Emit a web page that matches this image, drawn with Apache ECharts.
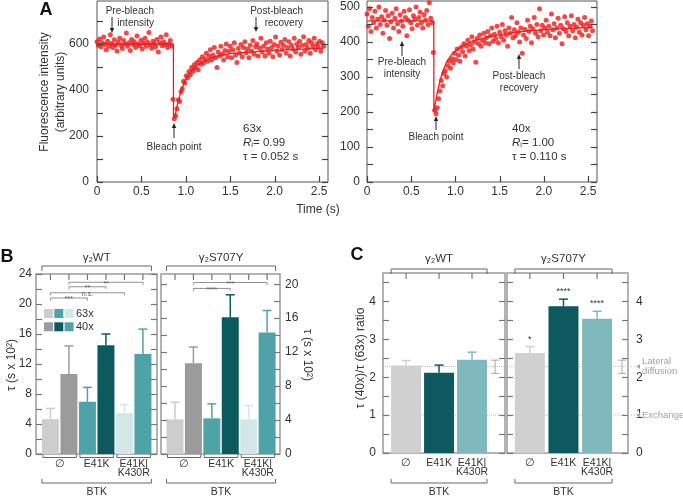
<!DOCTYPE html>
<html>
<head>
<meta charset="utf-8">
<title>FRAP recovery and tau ratios</title>
<script src="https://cdn.jsdelivr.net/npm/echarts@6/dist/echarts.min.js"></script>
<style>
    html, body { margin: 0; padding: 0; background: #fff; }
    #chart { width: 683px; height: 499px; }
</style>
</head>
<body>
<div id="chart"></div>
<script>
    // ---------- panel A: FRAP traces (one frame every sampleStep seconds) ----------
    var sampleStep = 0.015;
    var trace63x = [
        610, 595, 622, 588, 605, 630, 598, 575, 612, 590,
        640, 602, 585, 618, 596, 570, 608, 625, 593, 580,
        615, 600, 648, 590, 605, 572, 620, 598, 610, 585,
        635, 600, 592, 616, 578, 604, 625, 590, 608, 650,
        596, 582, 612, 600, 588, 620, 565, 605, 630, 592,
        610, 598, 640, 585, 600, 615, 590,
        360, 275, 288, 318, 358, 350, 392, 405, 438, 430,
        462, 452, 480, 465, 498, 482, 510, 495, 520, 488,
        530, 512, 545, 518, 535, 560, 525, 548, 575, 530,
        552, 585, 540, 498, 565, 548, 590, 555, 530, 572,
        600, 545, 568, 590, 540, 575, 605, 552, 520, 580,
        560, 598, 545, 585, 610, 562, 578, 540, 595, 570,
        615, 555, 588, 600, 548, 582, 625, 565, 590, 548,
        605, 578, 560, 612, 585, 545, 598, 630, 568, 590,
        552, 608, 575, 595, 620, 560, 585, 610, 548, 595,
        578, 625, 565, 600, 585, 612, 555, 595, 632, 570,
        598, 582, 615, 560, 605, 590, 625, 575, 600, 588,
        612, 568, 605, 590
    ];
    var trace40x = [
        480, 445, 495, 430, 470, 455, 488, 440, 465, 500,
        450, 472, 425, 462, 490, 448, 475, 410, 458, 482,
        440, 468, 495, 452, 430, 478, 460, 445, 488, 470,
        418, 462, 492, 455, 438, 475, 465, 500, 448, 470,
        485, 455, 440, 478, 462, 490, 450, 512, 468, 455,
        370, 205, 195, 212, 238, 260, 290, 275, 310, 318,
        300, 332, 345, 325, 352, 340, 368, 350, 380, 362,
        345, 385, 372, 395, 360, 388, 405, 375, 392, 415,
        380, 400, 342, 410, 395, 420, 388, 405, 425, 398,
        412, 430, 395, 418, 440, 402, 422, 410, 445, 398,
        428, 415, 450, 405, 432, 420, 388, 440, 425, 470,
        412, 435, 418, 455, 428, 400, 440, 368, 420, 436,
        410, 462, 430, 445, 398, 438, 470, 425, 450, 415,
        495, 432, 448, 420, 440, 462, 428, 445, 418, 480,
        435, 452, 412, 440, 468, 425, 448, 395, 438, 472,
        430, 455, 418, 445, 475, 432, 450, 412, 442, 465,
        428, 455, 420, 448, 470, 435, 452, 418, 445, 460, 432
    ];
    // fitted recovery curves [time, intensity]
    var fit63x = [[0, 600], [0.86, 600], [0.861, 280], [0.88, 290], [0.9, 330], [0.95, 400], [1.0, 450],
        [1.05, 478], [1.1, 498], [1.2, 525], [1.3, 542], [1.4, 552], [1.5, 558], [1.75, 566],
        [2.0, 572], [2.25, 577], [2.55, 582]];
    var fit40x = [[0, 460], [0.755, 460], [0.756, 200], [0.78, 235], [0.8, 262], [0.85, 312], [0.9, 343],
        [0.95, 362], [1.0, 375], [1.1, 392], [1.2, 403], [1.4, 416], [1.6, 425], [1.8, 431],
        [2.0, 435], [2.3, 439], [2.55, 442]];

    // ---------- panel B: tau (s x 10^2) ----------
    var btkGroups = ['\u2205', 'E41K', 'E41K|\nK430R'];
    var tauWT63 = [4.64, 6.96, 5.45];
    var tauWT63Err = [6.07, 8.88, 6.56];
    var tauWT40 = [10.67, 14.5, 13.35];
    var tauWT40Err = [14.4, 16.0, 16.65];
    var tauS707Y63 = [4.08, 4.2, 4.08];
    var tauS707Y63Err = [6.1, 5.9, 5.7];
    var tauS707Y40 = [10.7, 16.1, 14.3];
    var tauS707Y40Err = [12.6, 18.75, 16.9];
    // [from bar, to bar, height, label]
    var sigWT = [[1, 5, 22.9, '**'], [1, 3, 22.3, '**'], [0, 4, 21.5, 'n.s.'], [0, 2, 20.8, '***']];
    var sigS707Y = [[1, 5, 20.2, '***'], [1, 3, 19.5, '****']];

    // ---------- panel C: tau(40x)/tau(63x) ratio ----------
    var ratioWT = [2.31, 2.12, 2.46];
    var ratioWTErr = [2.44, 2.32, 2.66];
    var ratioS707Y = [2.64, 3.87, 3.54];
    var ratioS707YErr = [2.81, 4.06, 3.74];
    var starsS707Y = ['*', '****', '****'];
    var lateralDiffusion = [2.28, 2.1, 2.45]; // mean, low, high
    var exchangeLevel = 1.0;

    // ---------- styles ----------
    var FONT = "'Liberation Sans', Arial, Helvetica, sans-serif";
    var INK = '#333';
    var RED = '#ee1c1c';
    var shade63 = ['#cdcdcd', '#4ea3a8', '#d3e6e8'];
    var shade40 = ['#9b9b9b', '#0c5a60', '#4ea3a8'];
    var shadeC = ['#d0d0d0', '#0c5a60', '#80b9bd'];

    function isStep(v, step) {
        var r = v / step;
        return Math.abs(r - Math.round(r)) < 1e-6;
    }

    function yAx(gridIndex, position, max, interval, labelStep, labels, margin) {
        return {
            type: 'value', gridIndex: gridIndex, position: position,
            min: 0, max: max, interval: interval,
            axisLine: { show: false, onZero: false },
            splitLine: { show: false },
            axisTick: { show: false },
            axisLabel: {
                show: labels, margin: margin, color: INK, fontSize: 12, fontFamily: FONT,
                formatter: function (v) { return isStep(v, labelStep) ? String(Math.round(v)) : ''; }
            }
        };
    }

    function xHidden(gridIndex, min, max) {
        return { type: 'value', gridIndex: gridIndex, min: min, max: max, show: false, axisLine: { onZero: false } };
    }

    function xTime(gridIndex) {
        return {
            type: 'value', gridIndex: gridIndex, min: 0, max: 2.6, interval: 0.5,
            axisLine: { show: false, onZero: false },
            splitLine: { show: false },
            axisTick: { show: false },
            axisLabel: {
                margin: 4, color: INK, fontSize: 12, fontFamily: FONT,
                formatter: function (v) { return isStep(v, 0.5) ? (v === 0 ? '0' : v.toFixed(1)) : ''; }
            }
        };
    }

    function tracePoints(values) {
        return values.map(function (v, i) { return [+(i * sampleStep).toFixed(4), v]; });
    }

    function pairedBars(v63, v40) {
        var out = [];
        for (var c = 0; c < v63.length; c++) {
            out.push({ value: [2 * c, v63[c]], itemStyle: { color: shade63[c] } });
            out.push({ value: [2 * c + 1, v40[c]], itemStyle: { color: shade40[c] } });
        }
        return out;
    }

    function pairedErr(v63, e63, v40, e40) {
        var out = [];
        for (var c = 0; c < v63.length; c++) {
            out.push([2 * c, v63[c], e63[c]]);
            out.push([2 * c + 1, v40[c], e40[c]]);
        }
        return out;
    }

    var pairedColors = [];
    for (var k = 0; k < 3; k++) { pairedColors.push(shade63[k], shade40[k]); }

    function errRenderer(colors, stars) {
        return function (params, api) {
            var x = api.value(0);
            var base = api.coord([x, api.value(1)]);
            var tip = api.coord([x, api.value(2)]);
            var c = colors[params.dataIndex];
            var kids = [
                { type: 'line', shape: { x1: base[0], y1: base[1], x2: tip[0], y2: tip[1] }, style: { stroke: c, lineWidth: 1.5 } },
                { type: 'line', shape: { x1: tip[0] - 4.5, y1: tip[1], x2: tip[0] + 4.5, y2: tip[1] }, style: { stroke: c, lineWidth: 1.5 } }
            ];
            if (stars && stars[params.dataIndex]) {
                kids.push({
                    type: 'text', x: tip[0], y: tip[1] - 3,
                    style: { text: stars[params.dataIndex], align: 'center', verticalAlign: 'bottom', fontSize: 9, fontFamily: FONT, fill: INK }
                });
            }
            return { type: 'group', children: kids };
        };
    }

    function sigRenderer(list) {
        return function (params, api) {
            var a = api.coord([api.value(0), api.value(2)]);
            var b = api.coord([api.value(1), api.value(2)]);
            return {
                type: 'group', children: [
                    { type: 'polyline', shape: { points: [[a[0], a[1] + 2.5], [a[0], a[1]], [b[0], b[1]], [b[0], b[1] + 2.5]] }, style: { stroke: '#777', lineWidth: 0.8, fill: null } },
                    { type: 'text', x: (a[0] + b[0]) / 2, y: a[1] + 1.5, style: { text: list[params.dataIndex][3], align: 'center', verticalAlign: 'middle', fontSize: 7, fontFamily: FONT, fill: '#555' } }
                ]
            };
        };
    }

    function sdRenderer(params, api) {
        var lo = api.coord([api.value(0), api.value(1)]);
        var hi = api.coord([api.value(0), api.value(2)]);
        var st = { stroke: '#a8a8a8', lineWidth: 1 };
        return {
            type: 'group', children: [
                { type: 'line', shape: { x1: lo[0], y1: lo[1], x2: hi[0], y2: hi[1] }, style: st },
                { type: 'line', shape: { x1: lo[0] - 4, y1: lo[1], x2: lo[0] + 4, y2: lo[1] }, style: st },
                { type: 'line', shape: { x1: hi[0] - 4, y1: hi[1], x2: hi[0] + 4, y2: hi[1] }, style: st }
            ]
        };
    }

    function refLine(xi, yi, xmin, xmax, level) {
        return {
            type: 'line', xAxisIndex: xi, yAxisIndex: yi, z: 1, symbol: 'none', silent: true,
            data: [[xmin, level], [xmax, level]],
            lineStyle: { color: '#bdbdbd', width: 1, type: 'dotted' }
        };
    }

    function singleBars(values) {
        return values.map(function (v, i) { return { value: [i, v], itemStyle: { color: shadeC[i] } }; });
    }

    function singleErr(values, errs) {
        return values.map(function (v, i) { return [i, v, errs[i]]; });
    }

    var frameA = { show: true, borderColor: '#555', borderWidth: 1, backgroundColor: 'transparent' };
    var frameB = { show: true, borderColor: '#9a9a9a', borderWidth: 1.5, backgroundColor: 'transparent' };

    var chart = echarts.init(document.getElementById('chart'), null, { renderer: 'canvas' });

    var option = {
        animation: false,
        backgroundColor: '#fff',
        grid: [
            Object.assign({ left: 97, top: 1, width: 231, height: 181 }, frameA),
            Object.assign({ left: 367, top: 1, width: 230, height: 181 }, frameA),
            Object.assign({ left: 36, top: 274, width: 121, height: 180 }, frameB),
            Object.assign({ left: 161, top: 274, width: 119, height: 180 }, frameB),
            Object.assign({ left: 383, top: 273, width: 122, height: 180 }, frameB),
            Object.assign({ left: 507, top: 273, width: 121, height: 180 }, frameB)
        ],
        xAxis: [
            xTime(0),
            xTime(1),
            xHidden(2, -0.78, 5.76),
            xHidden(3, -0.76, 5.7),
            xHidden(4, -0.7, 3.0),
            xHidden(5, -0.68, 2.92)
        ],
        yAxis: [
            yAx(0, 'left', 787, 100, 200, true, 8),
            yAx(1, 'left', 517, 50, 100, true, 7),
            yAx(2, 'left', 24, 2, 4, true, 4),
            yAx(3, 'right', 21.2, 2, 4, true, 5),
            yAx(4, 'left', 4.75, 0.5, 1, true, 7),
            yAx(5, 'right', 4.75, 0.5, 1, true, 8)
        ],
        series: [
            { type: 'scatter', xAxisIndex: 0, yAxisIndex: 0, symbolSize: 5, itemStyle: { color: RED }, data: tracePoints(trace63x) },
            { type: 'line', xAxisIndex: 0, yAxisIndex: 0, showSymbol: false, symbol: 'none', lineStyle: { color: RED, width: 1.3 }, data: fit63x },
            { type: 'scatter', xAxisIndex: 1, yAxisIndex: 1, symbolSize: 5, itemStyle: { color: RED }, data: tracePoints(trace40x) },
            { type: 'line', xAxisIndex: 1, yAxisIndex: 1, showSymbol: false, symbol: 'none', lineStyle: { color: RED, width: 1.3 }, data: fit40x },

            { type: 'bar', xAxisIndex: 2, yAxisIndex: 2, barWidth: 17, z: 3, data: pairedBars(tauWT63, tauWT40) },
            { type: 'custom', xAxisIndex: 2, yAxisIndex: 2, z: 4, encode: { x: 0, y: [1, 2] }, renderItem: errRenderer(pairedColors), data: pairedErr(tauWT63, tauWT63Err, tauWT40, tauWT40Err) },
            { type: 'custom', xAxisIndex: 2, yAxisIndex: 2, z: 4, encode: { x: [0, 1], y: 2 }, renderItem: sigRenderer(sigWT), data: sigWT.map(function (s) { return s.slice(0, 3); }) },

            { type: 'bar', xAxisIndex: 3, yAxisIndex: 3, barWidth: 17, z: 3, data: pairedBars(tauS707Y63, tauS707Y40) },
            { type: 'custom', xAxisIndex: 3, yAxisIndex: 3, z: 4, encode: { x: 0, y: [1, 2] }, renderItem: errRenderer(pairedColors), data: pairedErr(tauS707Y63, tauS707Y63Err, tauS707Y40, tauS707Y40Err) },
            { type: 'custom', xAxisIndex: 3, yAxisIndex: 3, z: 4, encode: { x: [0, 1], y: 2 }, renderItem: sigRenderer(sigS707Y), data: sigS707Y.map(function (s) { return s.slice(0, 3); }) },

            refLine(4, 4, -0.7, 3.0, lateralDiffusion[0]),
            refLine(4, 4, -0.7, 3.0, exchangeLevel),
            { type: 'bar', xAxisIndex: 4, yAxisIndex: 4, barWidth: 30, z: 3, data: singleBars(ratioWT) },
            { type: 'custom', xAxisIndex: 4, yAxisIndex: 4, z: 4, encode: { x: 0, y: [1, 2] }, renderItem: errRenderer(shadeC), data: singleErr(ratioWT, ratioWTErr) },
            { type: 'custom', xAxisIndex: 4, yAxisIndex: 4, z: 4, encode: { x: 0, y: [1, 2] }, renderItem: sdRenderer, data: [[2.7, lateralDiffusion[1], lateralDiffusion[2]]] },

            refLine(5, 5, -0.68, 2.92, lateralDiffusion[0]),
            refLine(5, 5, -0.68, 2.92, exchangeLevel),
            { type: 'bar', xAxisIndex: 5, yAxisIndex: 5, barWidth: 30, z: 3, data: singleBars(ratioS707Y) },
            { type: 'custom', xAxisIndex: 5, yAxisIndex: 5, z: 4, encode: { x: 0, y: [1, 2] }, renderItem: errRenderer(shadeC, starsS707Y), data: singleErr(ratioS707Y, ratioS707YErr) },
            { type: 'custom', xAxisIndex: 5, yAxisIndex: 5, z: 4, encode: { x: 0, y: [1, 2] }, renderItem: sdRenderer, data: [[2.74, lateralDiffusion[1], lateralDiffusion[2]]] }
        ]
    };

    chart.setOption(option);

    // ---------- annotations, brackets, ticks, labels ----------
    function px(i, x, y) {
        return chart.convertToPixel({ xAxisIndex: i, yAxisIndex: i }, [x, y]);
    }

    function T(x, y, text, size, extra) {
        var st = { text: text, fontSize: size, fontFamily: FONT, fill: INK, align: 'center', verticalAlign: 'middle' };
        for (var key in (extra || {})) { st[key] = extra[key]; }
        return { type: 'text', x: x, y: y, z: 100, style: st };
    }

    function L(points, color, width) {
        return { type: 'polyline', z: 100, shape: { points: points }, style: { stroke: color || '#555', lineWidth: width || 1, fill: null } };
    }

    function arrow(x, yFrom, yTo) {
        var d = yTo > yFrom ? 1 : -1;
        return [
            L([[x, yFrom], [x, yTo - d * 3]], '#222', 1),
            { type: 'polygon', z: 100, shape: { points: [[x - 2.2, yTo - d * 5], [x + 2.2, yTo - d * 5], [x, yTo]] }, style: { fill: '#222' } }
        ];
    }

    var g = [];

    // inward ticks on both sides of each frame
    function sideTicks(i, xmin, xmax, top, step, color) {
        var xl = px(i, xmin, 0)[0], xr = px(i, xmax, 0)[0];
        for (var n = 0; n * step <= top + 1e-9; n++) {
            var y = Math.round(px(i, xmin, n * step)[1]) + 0.5;
            g.push(L([[xl, y], [xl + 6, y]], color, 1.2));
            g.push(L([[xr - 6, y], [xr, y]], color, 1.2));
        }
    }
    function bottomTicks(i, maxT, step, color) {
        for (var n = 0; n * step <= maxT + 1e-9; n++) {
            var p = px(i, n * step, 0);
            var x = Math.round(p[0]) + 0.5;
            g.push(L([[x, p[1]], [x, p[1] - 6]], color, 1.2));
        }
    }
    sideTicks(0, 0, 2.6, 700, 100, '#444');
    sideTicks(1, 0, 2.6, 500, 50, '#444');
    bottomTicks(0, 2.5, 0.5, '#444');
    bottomTicks(1, 2.5, 0.5, '#444');
    sideTicks(2, -0.78, 5.76, 24, 2, '#777');
    sideTicks(3, -0.76, 5.7, 20, 2, '#777');
    sideTicks(4, -0.7, 3.0, 4.5, 0.5, '#777');
    sideTicks(5, -0.68, 2.92, 4.5, 0.5, '#777');

    // panel letters
    g.push(T(46, 10, 'A', 18, { fontWeight: 'bold', fill: '#111' }));
    g.push(T(7, 257, 'B', 18, { fontWeight: 'bold', fill: '#111' }));
    g.push(T(357, 255, 'C', 18, { fontWeight: 'bold', fill: '#111' }));

    // panel A titles
    var yTitle = T(53, 92, 'Fluorescence intensity\n(arbitrary units)', 12, { lineHeight: 16 });
    yTitle.rotation = Math.PI / 2;
    g.push(yTitle);
    g.push(T(318, 210, 'Time (s)', 12));

    // panel A annotations, 63x
    g.push(T(154, 11, 'Pre-bleach', 10, { align: 'right' }));
    g.push(T(154, 23, 'intensity', 10, { align: 'right' }));
    g = g.concat(arrow(112, 17, 33));
    g.push(T(303, 11, 'Post-bleach', 10, { align: 'right' }));
    g.push(T(303, 23, 'recovery', 10, { align: 'right' }));
    g = g.concat(arrow(256, 17, 32));
    g = g.concat(arrow(174, 138, 123));
    g.push(T(174, 147, 'Bleach point', 10));

    function stats(x, mag, r, tau) {
        g.push(T(x, 129, mag, 11.5, { align: 'left' }));
        g.push({
            type: 'text', x: x, y: 143, z: 100,
            style: {
                text: '{it|R}{sub|i}{n|= ' + r + '}', align: 'left', verticalAlign: 'middle',
                rich: {
                    it: { fontStyle: 'italic', fontSize: 11.5, fontFamily: FONT, fill: INK },
                    sub: { fontSize: 7.5, fontFamily: FONT, fill: INK, verticalAlign: 'bottom', lineHeight: 6 },
                    n: { fontSize: 11.5, fontFamily: FONT, fill: INK }
                }
            }
        });
        g.push(T(x, 157, '\u03c4 = ' + tau + ' s', 11.5, { align: 'left' }));
    }
    stats(243, '63x', '0.99', '0.052');

    // panel A annotations, 40x
    g = g.concat(arrow(402, 56, 41));
    g.push(T(402, 62, 'Pre-bleach', 10));
    g.push(T(402, 74, 'intensity', 10));
    g = g.concat(arrow(436, 130, 116));
    g.push(T(436, 137, 'Bleach point', 10));
    g = g.concat(arrow(519, 69, 54));
    g.push(T(519, 76, 'Post-bleach', 10));
    g.push(T(519, 88, 'recovery', 10));
    stats(512, '40x', '1.00', '0.110');

    // bar panel decorations
    function decorate(i, yMax, barPos, half, cats, header, headerY, headerLabelY, pairBrackets) {
        var top = px(i, 0, yMax)[1];
        var bottom = px(i, 0, 0)[1];
        var xs = barPos.map(function (p) { return px(i, p, 0)[0]; });
        xs.forEach(function (x) { g.push(L([[x, top], [x, top + 6]], '#777', 1.2)); });
        var xl = xs[0] - half, xr = xs[xs.length - 1] + half;
        g.push(L([[xl, headerY + 5], [xl, headerY], [xr, headerY], [xr, headerY + 5]], '#666', 1));
        g.push(T((xl + xr) / 2, headerLabelY, header, 11.5));
        var per = xs.length / cats.length;
        for (var c = 0; c < cats.length; c++) {
            var a = xs[c * per], b = xs[c * per + per - 1];
            g.push(T((a + b) / 2, bottom + 6, cats[c], 10.5, { verticalAlign: 'top', lineHeight: 9 }));
            if (pairBrackets) {
                g.push(L([[a - half + 1, bottom + 0.5], [a - half + 1, bottom + 3.5], [b + half - 1, bottom + 3.5], [b + half - 1, bottom + 0.5]], '#666', 1));
            }
        }
        g.push(L([[xl, 479], [xl, 483], [xr, 483], [xr, 479]], '#666', 1));
        g.push(T((xl + xr) / 2, 492, 'BTK', 10.5));
    }
    decorate(2, 24, [0, 1, 2, 3, 4, 5], 8.5, btkGroups, '\u03b3\u2082WT', 266, 258, true);
    decorate(3, 21.2, [0, 1, 2, 3, 4, 5], 8.5, btkGroups, '\u03b3\u2082S707Y', 266, 258, true);
    decorate(4, 4.75, [0, 1, 2], 15, btkGroups, '\u03b3\u2082WT', 269, 259, false);
    decorate(5, 4.75, [0, 1, 2], 15, btkGroups, '\u03b3\u2082S707Y', 269, 259, false);

    // axis titles for B and C
    var tauL = T(12, 365, '\u03c4 (s x 10\u00b2)', 12);
    tauL.rotation = Math.PI / 2;
    g.push(tauL);
    var tauR = T(307, 355, '\u03c4 (s x 10\u00b2)', 12);
    tauR.rotation = -Math.PI / 2;
    g.push(tauR);
    var ratioT = T(361, 358, '\u03c4 (40x)/\u03c4 (63x) ratio', 12);
    ratioT.rotation = Math.PI / 2;
    g.push(ratioT);

    // legend in B
    [shade63, shade40].forEach(function (row, r) {
        row.forEach(function (col, n) {
            g.push({ type: 'rect', z: 100, shape: { x: 44 + n * 10.3, y: 309 + r * 13.3, width: 9, height: 9 }, style: { fill: col } });
        });
        g.push(T(76, 313.5 + r * 13.3, r === 0 ? '63x' : '40x', 11, { align: 'left' }));
    });

    // reference labels to the right of panel C
    var frameRight = px(5, 2.92, 0)[0];
    [[lateralDiffusion[0], 'Lateral\ndiffusion'], [exchangeLevel, 'Exchange']].forEach(function (ref) {
        var y = px(5, 0, ref[0])[1];
        g.push({ type: 'polyline', z: 100, shape: { points: [[frameRight, y], [frameRight + 7, y]] }, style: { stroke: '#bdbdbd', lineWidth: 1, lineDash: [1, 2], fill: null } });
        g.push({ type: 'polygon', z: 100, shape: { points: [[636, y], [640, y - 2.5], [640, y + 2.5]] }, style: { fill: '#a8a8a8' } });
        g.push(T(642, y, ref[1], 9.5, { align: 'left', fill: '#a0a0a0', lineHeight: 10 }));
    });

    chart.setOption({ graphic: { elements: g } });
</script>
</body>
</html>
